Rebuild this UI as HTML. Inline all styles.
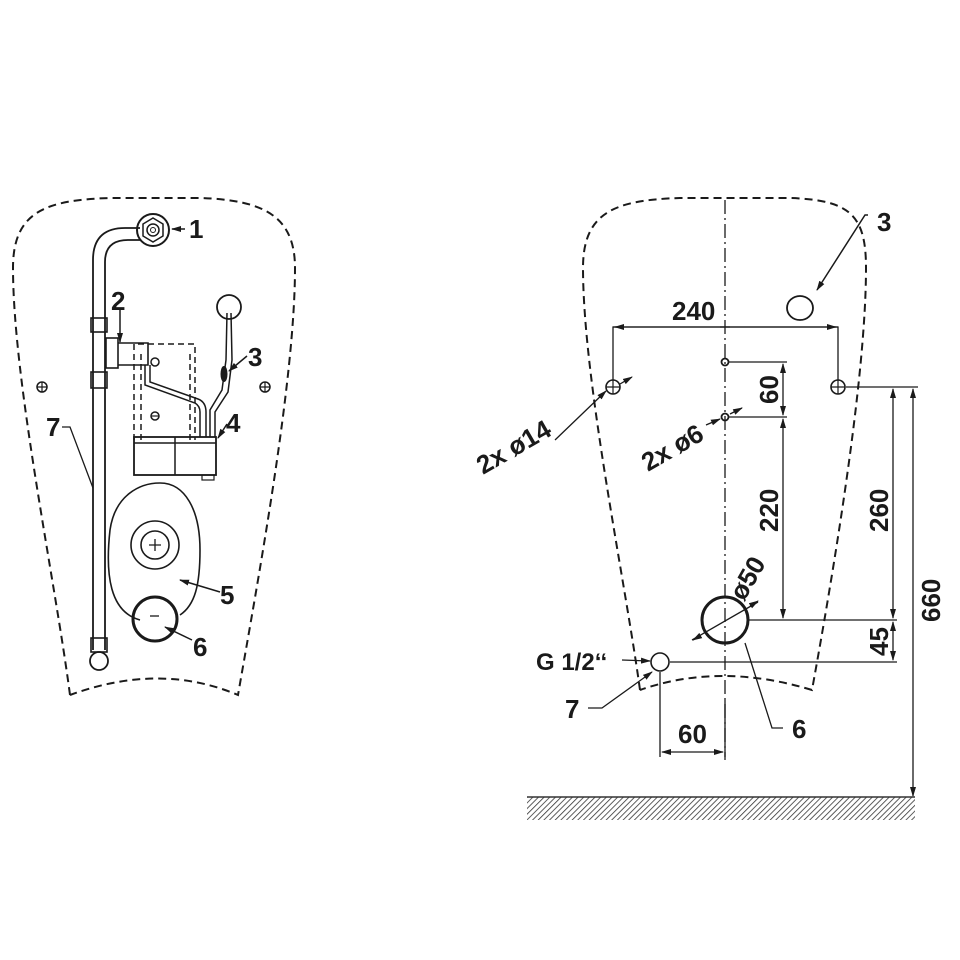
<!DOCTYPE html>
<html><head><meta charset="utf-8"><style>
html,body{margin:0;padding:0;background:#fff;}
svg{display:block;}
text{font-family:"Liberation Sans",sans-serif;font-weight:bold;fill:#1a1a1a;}
</style></head><body>
<svg width="960" height="960" viewBox="0 0 960 960" xmlns="http://www.w3.org/2000/svg">
<defs>
<marker id="ar" markerWidth="10" markerHeight="8" refX="9" refY="4" orient="auto" markerUnits="userSpaceOnUse">
<path d="M0,1 L10,4 L0,7 Z" fill="#1a1a1a"/></marker>
<pattern id="hat" width="4" height="4" patternUnits="userSpaceOnUse" patternTransform="rotate(45)">
<line x1="0" y1="0" x2="0" y2="4" stroke="#333" stroke-width="1.6"/></pattern>
</defs>
<g fill="none" stroke="#1a1a1a" stroke-width="2">
<!-- LEFT outline -->
<path d="M70,695 C55,580 13,380 13,268 C13,212 45,200 110,198 L200,198 C262,200 295,215 295,268 C295,380 258,580 238,695 Q160,662 70,695" stroke-dasharray="8,5"/>
<!-- screws -->
<circle cx="42" cy="387" r="5" stroke-width="1.5"/><path d="M37,387h10M42,382v10" stroke-width="1.2"/>
<circle cx="265" cy="387" r="5" stroke-width="1.5"/><path d="M260,387h10M265,382v10" stroke-width="1.2"/>
<!-- pipe -->
<path d="M93,650 V260 Q93,228 125,228 H140" stroke-width="1.8"/>
<path d="M105,650 V262 Q105,240 128,240 H140" stroke-width="1.8"/>
<rect x="91" y="318" width="16" height="14" stroke-width="1.6"/>
<rect x="91" y="372" width="16" height="16" stroke-width="1.6"/>
<rect x="91" y="638" width="16" height="14" stroke-width="1.6"/>
<circle cx="99" cy="661" r="9" stroke-width="1.8"/>
<!-- nut 1 -->
<circle cx="153" cy="230" r="16" stroke-width="2"/>
<polygon points="153,218 163,224 163,236 153,242 143,236 143,224" stroke-width="1.5"/>
<circle cx="153" cy="230" r="6" stroke-width="1.5"/><circle cx="153" cy="230" r="2.5" stroke-width="1"/>
<!-- valve 2 -->
<rect x="106" y="338" width="12" height="30" stroke-width="1.6"/>
<path d="M118,343 H148 V365 H118" stroke-width="1.6"/>
<circle cx="155" cy="362" r="4" stroke-width="1.5"/>
<!-- dashed box -->
<path d="M134,440 V344 H195 V440 M141,440 V350 M190,440 V350" stroke-dasharray="6,4" stroke-width="1.5"/>
<circle cx="155" cy="416" r="4" stroke-width="1.5"/><path d="M151,416h8" stroke-width="1.2"/>
<!-- tubes -->
<path d="M145,365 V385 L195,403 Q200,406 200,412 V437" stroke-width="1.5"/>
<path d="M150,365 V382 L198,399 Q206,402 206,412 V437" stroke-width="1.5"/>
<path d="M210,437 V410 L222,390 L226,360 L227,313" stroke-width="1.5"/>
<path d="M215,437 V412 L228,392 L232,360 L231,313" stroke-width="1.5"/>
<circle cx="229" cy="307" r="12" stroke-width="1.8"/>
<ellipse cx="224" cy="374" rx="2.5" ry="7" fill="#1a1a1a"/>
<!-- solenoid box -->
<rect x="134" y="437" width="82" height="38" stroke-width="1.8"/>
<path d="M134,443 H216 M175,437 V475" stroke-width="1.5"/>
<rect x="202" y="475" width="12" height="5" stroke-width="1.2"/>
<!-- oval 5 -->
<path d="M140,620 C110,612 105,575 110,530 C115,495 140,483 160,483 C185,483 200,510 200,550 C200,585 195,605 180,615" stroke-width="1.6"/>
<circle cx="155" cy="545" r="24" stroke-width="1.6"/>
<circle cx="155" cy="545" r="14" stroke-width="1.6"/>
<path d="M149,545h12M155,539v12" stroke-width="1.3"/>
<circle cx="155" cy="619" r="22" stroke-width="3"/>
<path d="M150,616h9" stroke-width="1.3"/>
<!-- leaders left -->
<path d="M185,229 H172" stroke-width="1.5" marker-end="url(#ar)"/>
<path d="M120,310 V342" stroke-width="1.5" marker-end="url(#ar)"/>
<path d="M247,356 L229,371" stroke-width="1.5" marker-end="url(#ar)"/>
<path d="M227,424 L218,438" stroke-width="1.5" marker-end="url(#ar)"/>
<path d="M62,427 H70 L93,488" stroke-width="1.3"/>
<path d="M220,592 L180,580" stroke-width="1.5" marker-end="url(#ar)"/>
<path d="M192,640 L165,627" stroke-width="1.5" marker-end="url(#ar)"/>

<!-- RIGHT outline -->
<path d="M640,690 C625,580 583,380 583,268 C583,212 615,200 680,198 L790,198 C850,200 866,215 866,268 C866,380 832,580 812,690 Q720,662 640,690" stroke-dasharray="8,5"/>
<path d="M725,200 V760" stroke-width="1.3" stroke-dasharray="14,4,2,4"/>
<!-- holes -->
<circle cx="613" cy="387" r="7" stroke-width="1.6"/><path d="M606,387h14M613,380v14" stroke-width="1.2"/>
<circle cx="838" cy="387" r="7" stroke-width="1.6"/><path d="M831,387h14M838,380v14" stroke-width="1.2"/>
<circle cx="725" cy="362" r="3.5" stroke-width="1.8"/>
<circle cx="725" cy="417" r="3.5" stroke-width="1.8"/>
<ellipse cx="800" cy="308" rx="13" ry="12" stroke-width="1.8"/>
<circle cx="725" cy="620" r="23" stroke-width="3"/>
<circle cx="660" cy="662" r="9" stroke-width="1.6"/>
<!-- dims -->
<path d="M613,380 V327 H838 V380" stroke-width="1.3"/>
<path d="M620,327 H613 M831,327 H838" stroke-width="1.3"/>
<path d="M730,327 H615" stroke-width="1.3" marker-end="url(#ar)"/>
<path d="M720,327 H836" stroke-width="1.3" marker-end="url(#ar)"/>
<path d="M729,362 H787 M729,417 H787" stroke-width="1.3"/>
<path d="M783,390 V364" stroke-width="1.3" marker-end="url(#ar)"/>
<path d="M783,390 V415" stroke-width="1.3" marker-end="url(#ar)"/>
<path d="M783,510 V419" stroke-width="1.3" marker-end="url(#ar)"/>
<path d="M783,510 V618" stroke-width="1.3" marker-end="url(#ar)"/>
<path d="M846,387 H918 M748,620 H897 M670,662 H897" stroke-width="1.3"/>
<path d="M893,500 V389" stroke-width="1.3" marker-end="url(#ar)"/>
<path d="M893,500 V618" stroke-width="1.3" marker-end="url(#ar)"/>
<path d="M893,641 V622" stroke-width="1.3" marker-end="url(#ar)"/>
<path d="M893,641 V660" stroke-width="1.3" marker-end="url(#ar)"/>
<path d="M913,590 V389" stroke-width="1.3" marker-end="url(#ar)"/>
<path d="M913,590 V796" stroke-width="1.3" marker-end="url(#ar)"/>
<path d="M660,672 V757 M725,700 V757" stroke-width="1.3"/>
<path d="M692,752 H662" stroke-width="1.3" marker-end="url(#ar)"/>
<path d="M692,752 H723" stroke-width="1.3" marker-end="url(#ar)"/>
<!-- diameter lines -->
<path d="M692,640 L758,602" stroke-width="1.3"/>
<path d="M700,636 L693,640" stroke-width="1.3" marker-end="url(#ar)"/>
<path d="M750,606 L758,601" stroke-width="1.3" marker-end="url(#ar)"/>
<path d="M555,440 L606,391" stroke-width="1.3" marker-end="url(#ar)"/>
<path d="M620,384 L632,377" stroke-width="1.3" marker-end="url(#ar)"/>
<path d="M706,425 L720,419" stroke-width="1.3" marker-end="url(#ar)"/>
<path d="M730,414 L742,408" stroke-width="1.3" marker-end="url(#ar)"/>
<path d="M622,660 L650,661" stroke-width="1.3" marker-end="url(#ar)"/>
<path d="M868,215 H865 L817,290" stroke-width="1.5" marker-end="url(#ar)"/>
<path d="M588,708 H602 L652,672" stroke-width="1.3" marker-end="url(#ar)"/>
<path d="M783,728 H772 L745,643" stroke-width="1.3"/>
</g>
<rect x="527" y="797" width="388" height="23" fill="url(#hat)"/>
<line x1="527" y1="797" x2="915" y2="797" stroke="#333" stroke-width="1.5"/>

<!-- labels left -->
<text x="189" y="238" font-size="26">1</text>
<text x="111" y="310" font-size="26">2</text>
<text x="248" y="366" font-size="26">3</text>
<text x="226" y="432" font-size="26">4</text>
<text x="220" y="604" font-size="26">5</text>
<text x="193" y="656" font-size="26">6</text>
<text x="46" y="436" font-size="26">7</text>
<!-- labels right -->
<text x="877" y="231" font-size="26">3</text>
<text x="672" y="320" font-size="26">240</text>
<text font-size="26" transform="translate(778,404) rotate(-90)">60</text>
<text font-size="26" transform="translate(778,532) rotate(-90)">220</text>
<text font-size="26" transform="translate(888,532) rotate(-90)">260</text>
<text font-size="26" transform="translate(888,656) rotate(-90)">45</text>
<text font-size="26" transform="translate(940,622) rotate(-90)">660</text>
<text font-size="26" transform="translate(483,475) rotate(-30)">2x ø14</text>
<text font-size="26" transform="translate(648,472) rotate(-30)">2x ø6</text>
<text font-size="26" transform="translate(744,602) rotate(-60)">ø50</text>
<text x="536" y="670" font-size="24">G 1/2‘‘</text>
<text x="565" y="718" font-size="26">7</text>
<text x="792" y="738" font-size="26">6</text>
<text x="678" y="743" font-size="26">60</text>
</svg>
</body></html>
